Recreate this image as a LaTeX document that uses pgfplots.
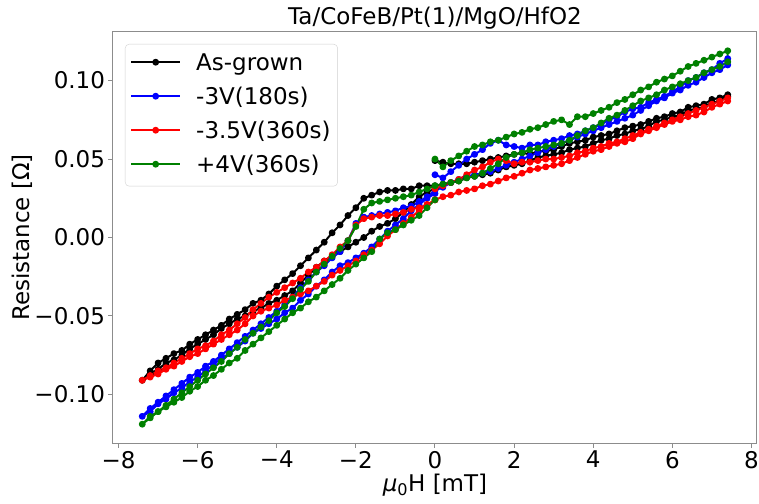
\documentclass[border=0pt]{standalone}
\usepackage{pgfplots}
\pgfplotsset{compat=1.18}
\usepackage{fontspec}
\setmainfont{DejaVu Sans}
\newcommand{\fs}{\fontsize{23}{28}\selectfont}
\definecolor{mplgreen}{rgb}{0,0.5,0}
\definecolor{framegray}{gray}{0.55}

\begin{document}
\begin{tikzpicture}
\path[use as bounding box] (-113pt,-60pt) rectangle (646pt,443pt);
\begin{axis}[
  at={(0,0)}, anchor=south west,
  width=644pt, height=411pt, scale only axis,
  xmin=-8.14, xmax=8.14, ymin=-0.131, ymax=0.131,
  xtick={-8,-6,-4,-2,0,2,4,6,8},
  xticklabels={−8,−6,−4,−2,0,2,4,6,8},
  ytick={-0.1,-0.05,0,0.05,0.1},
  yticklabels={−0.10,−0.05,0.00,0.05,0.10},
  tick align=outside, tick pos=left,
  major tick length=4.5pt,
  tick style={framegray, line width=1pt},
  axis line style={framegray, line width=1pt},
  every tick label/.append style={font=\fs, text=black},
  title={Ta/CoFeB/Pt(1)/MgO/HfO2},
  title style={font=\fs, at={(axis description cs:0.5,1.0268)}, anchor=base, yshift=-10pt},
  xlabel={{\itshape μ}\textsubscript{0}H [mT]},
  xlabel style={font=\fs, at={(axis description cs:0.5,-0.1192)}, anchor=base},
  ylabel={Resistance [Ω]},
  ylabel style={font=\fs, at={(axis description cs:-0.1413,0.5)}, anchor=center},
  legend cell align=left,
  legend style={at={(axis description cs:0,1)}, anchor=north west,
    xshift=12pt, yshift=-12pt, font=\fs,
    draw=black!18, fill=white, fill opacity=0.8, text opacity=1,
    rounded corners=4pt, inner xsep=5pt, inner ysep=7pt,
    row sep=8pt,
    /tikz/every odd column/.append style={column sep=13pt},
    nodes={inner sep=2pt, text height=17pt, text depth=5pt}},
  legend image code/.code={\draw[mark repeat=2,mark phase=2,yshift=2pt]
    plot coordinates {(0pt,0pt) (24.5pt,0pt) (49pt,0pt)};},
  every axis plot/.append style={line width=2pt, line join=round, mark=*, mark size=2.4pt},
]

% As-grown
\addplot[black] coordinates {
(0,0.049)(0.2,0.048)(0.4,0.047)(0.6,0.047)(0.8,0.047)(1,0.048)(1.2,0.049)(1.4,0.050)(1.6,0.051)(1.8,0.052)
(2,0.053)(2.2,0.054)(2.4,0.053)(2.6,0.055)(2.8,0.055)(3,0.056)(3.2,0.058)(3.4,0.060)(3.6,0.061)(3.8,0.062)
(4,0.064)(4.2,0.065)(4.4,0.066)(4.6,0.068)(4.8,0.070)(5,0.071)(5.2,0.072)(5.4,0.074)(5.6,0.076)(5.8,0.077)
(6,0.079)(6.2,0.080)(6.4,0.083)(6.6,0.084)(6.8,0.085)(7,0.088)(7.2,0.089)(7.4,0.091)
(7.4,0.090)(7.2,0.087)(7,0.086)(6.8,0.083)(6.6,0.082)(6.4,0.081)(6.2,0.078)(6,0.077)(5.8,0.075)(5.6,0.074)
(5.4,0.071)(5.2,0.069)(5,0.068)(4.8,0.066)(4.6,0.065)(4.4,0.063)(4.2,0.062)(4,0.060)(3.8,0.058)(3.6,0.057)
(3.4,0.056)(3.2,0.054)(3,0.053)(2.8,0.052)(2.6,0.051)(2.4,0.049)(2.2,0.047)(2,0.046)(1.8,0.045)(1.6,0.043)
(1.4,0.041)(1.2,0.040)(1,0.039)(0.8,0.038)(0.6,0.036)(0.4,0.035)(0.2,0.034)(0,0.033)
(-0.2,0.033)(-0.4,0.033)(-0.6,0.031)(-0.8,0.031)(-1,0.030)(-1.2,0.030)(-1.4,0.029)(-1.6,0.027)(-1.8,0.025)
(-2,0.019)(-2.2,0.014)(-2.4,0.008)(-2.6,0.003)(-2.8,-0.003)(-3,-0.008)(-3.2,-0.013)(-3.4,-0.018)(-3.6,-0.023)
(-3.8,-0.027)(-4,-0.031)(-4.2,-0.036)(-4.4,-0.040)(-4.6,-0.042)(-4.8,-0.046)(-5,-0.049)(-5.2,-0.052)
(-5.4,-0.056)(-5.6,-0.059)(-5.8,-0.062)(-6,-0.065)(-6.2,-0.068)(-6.4,-0.072)(-6.6,-0.074)(-6.8,-0.077)
(-7,-0.080)(-7.2,-0.085)(-7.4,-0.091)
(-7.2,-0.087)(-7,-0.084)(-6.8,-0.080)(-6.6,-0.078)(-6.4,-0.075)(-6.2,-0.071)(-6,-0.068)(-5.8,-0.065)
(-5.6,-0.062)(-5.4,-0.058)(-5.2,-0.055)(-5,-0.052)(-4.8,-0.050)(-4.6,-0.047)(-4.4,-0.045)(-4.2,-0.042)
(-4,-0.040)(-3.8,-0.037)(-3.6,-0.034)(-3.4,-0.029)(-3.2,-0.024)(-3,-0.019)(-2.8,-0.015)(-2.6,-0.012)
(-2.4,-0.009)(-2.2,-0.006)(-2,-0.003)(-1.8,0.000)(-1.6,0.004)(-1.4,0.007)(-1.2,0.009)(-1,0.012)
(-0.8,0.016)(-0.6,0.021)(-0.4,0.026)(-0.2,0.029)(0,0.031)
};
\addlegendentry{As-grown}

% -3V(180s)
\addplot[blue] coordinates {
(0,0.040)(0.2,0.038)(0.4,0.042)(0.6,0.046)(0.8,0.050)(1,0.053)(1.2,0.056)(1.4,0.060)(1.6,0.062)(1.8,0.059)
(2,0.058)(2.2,0.057)(2.4,0.059)(2.6,0.059)(2.8,0.061)(3,0.062)(3.2,0.063)(3.4,0.065)(3.6,0.066)(3.8,0.068)
(4,0.070)(4.2,0.072)(4.4,0.075)(4.6,0.077)(4.8,0.080)(5,0.082)(5.2,0.083)(5.4,0.086)(5.6,0.088)(5.8,0.090)
(6,0.093)(6.2,0.096)(6.4,0.100)(6.6,0.102)(6.8,0.105)(7,0.107)(7.2,0.111)(7.4,0.114)
(7.4,0.110)(7.2,0.107)(7,0.105)(6.8,0.102)(6.6,0.099)(6.4,0.097)(6.2,0.094)(6,0.092)(5.8,0.089)(5.6,0.087)
(5.4,0.084)(5.2,0.081)(5,0.078)(4.8,0.076)(4.6,0.074)(4.4,0.072)(4.2,0.070)(4,0.068)(3.8,0.066)(3.6,0.064)
(3.4,0.062)(3.2,0.060)(3,0.058)(2.8,0.056)(2.6,0.054)(2.4,0.052)(2.2,0.050)(2,0.048)(1.8,0.046)(1.6,0.044)
(1.4,0.042)(1.2,0.041)(1,0.040)(0.8,0.039)(0.6,0.037)(0.4,0.035)(0.2,0.032)(0,0.030)
(-0.2,0.026)(-0.4,0.023)(-0.6,0.020)(-0.8,0.019)(-1,0.017)(-1.2,0.016)(-1.4,0.015)(-1.6,0.014)(-1.8,0.013)
(-2,0.009)(-2.2,-0.002)(-2.4,-0.009)(-2.6,-0.013)(-2.8,-0.018)(-3,-0.022)(-3.2,-0.027)(-3.4,-0.032)
(-3.6,-0.038)(-3.8,-0.043)(-4,-0.047)(-4.2,-0.051)(-4.4,-0.055)(-4.6,-0.059)(-4.8,-0.063)(-5,-0.067)
(-5.2,-0.071)(-5.4,-0.075)(-5.6,-0.079)(-5.8,-0.082)(-6,-0.086)(-6.2,-0.089)(-6.4,-0.093)(-6.6,-0.097)
(-6.8,-0.101)(-7,-0.105)(-7.2,-0.109)(-7.4,-0.114)
(-7.2,-0.111)(-7,-0.106)(-6.8,-0.103)(-6.6,-0.099)(-6.4,-0.096)(-6.2,-0.092)(-6,-0.089)(-5.8,-0.085)
(-5.6,-0.081)(-5.4,-0.077)(-5.2,-0.074)(-5,-0.070)(-4.8,-0.066)(-4.6,-0.061)(-4.4,-0.058)(-4.2,-0.055)
(-4,-0.052)(-3.8,-0.048)(-3.6,-0.045)(-3.4,-0.040)(-3.2,-0.036)(-3,-0.031)(-2.8,-0.027)(-2.6,-0.022)
(-2.4,-0.018)(-2.2,-0.016)(-2,-0.013)(-1.8,-0.010)(-1.6,-0.006)(-1.4,-0.001)(-1.2,0.004)(-1,0.008)
(-0.8,0.012)(-0.6,0.017)(-0.4,0.021)(-0.2,0.025)(0,0.028)
};
\addlegendentry{-3V(180s)}

% -3.5V(360s)
\addplot[red] coordinates {
(0,0.031)(0.2,0.033)(0.4,0.035)(0.6,0.037)(0.8,0.040)(1,0.043)(1.2,0.045)(1.4,0.048)(1.6,0.050)(1.8,0.049)
(2,0.047)(2.2,0.048)(2.4,0.048)(2.6,0.049)(2.8,0.050)(3,0.050)(3.2,0.051)(3.4,0.052)(3.6,0.054)(3.8,0.055)
(4,0.057)(4.2,0.058)(4.4,0.060)(4.6,0.061)(4.8,0.063)(5,0.065)(5.2,0.067)(5.4,0.069)(5.6,0.071)(5.8,0.073)
(6,0.075)(6.2,0.077)(6.4,0.079)(6.6,0.081)(6.8,0.083)(7,0.085)(7.2,0.087)(7.4,0.089)
(7.4,0.087)(7.2,0.085)(7,0.083)(6.8,0.080)(6.6,0.078)(6.4,0.077)(6.2,0.075)(6,0.074)(5.8,0.072)(5.6,0.070)
(5.4,0.068)(5.2,0.066)(5,0.063)(4.8,0.061)(4.6,0.060)(4.4,0.058)(4.2,0.056)(4,0.055)(3.8,0.053)(3.6,0.051)
(3.4,0.049)(3.2,0.047)(3,0.046)(2.8,0.045)(2.6,0.044)(2.4,0.043)(2.2,0.041)(2,0.039)(1.8,0.038)(1.6,0.036)
(1.4,0.034)(1.2,0.033)(1,0.031)(0.8,0.030)(0.6,0.029)(0.4,0.027)(0.2,0.026)(0,0.024)
(-0.2,0.021)(-0.4,0.019)(-0.6,0.018)(-0.8,0.016)(-1,0.015)(-1.2,0.014)(-1.4,0.014)(-1.6,0.013)(-1.8,0.012)
(-2,0.008)(-2.2,-0.002)(-2.4,-0.006)(-2.6,-0.011)(-2.8,-0.015)(-3,-0.019)(-3.2,-0.022)(-3.4,-0.026)
(-3.6,-0.029)(-3.8,-0.032)(-4,-0.035)(-4.2,-0.038)(-4.4,-0.042)(-4.6,-0.046)(-4.8,-0.051)(-5,-0.055)
(-5.2,-0.059)(-5.4,-0.062)(-5.6,-0.066)(-5.8,-0.069)(-6,-0.071)(-6.2,-0.074)(-6.4,-0.077)(-6.6,-0.080)
(-6.8,-0.083)(-7,-0.085)(-7.2,-0.088)(-7.4,-0.091)
(-7.2,-0.089)(-7,-0.087)(-6.8,-0.084)(-6.6,-0.082)(-6.4,-0.079)(-6.2,-0.076)(-6,-0.074)(-5.8,-0.071)
(-5.6,-0.068)(-5.4,-0.065)(-5.2,-0.062)(-5,-0.059)(-4.8,-0.055)(-4.6,-0.050)(-4.4,-0.047)(-4.2,-0.045)
(-4,-0.043)(-3.8,-0.040)(-3.6,-0.038)(-3.4,-0.036)(-3.2,-0.034)(-3,-0.031)(-2.8,-0.028)(-2.6,-0.024)
(-2.4,-0.021)(-2.2,-0.018)(-2,-0.015)(-1.8,-0.011)(-1.6,-0.008)(-1.4,-0.004)(-1.2,0.001)(-1,0.005)
(-0.8,0.009)(-0.6,0.013)(-0.4,0.017)(-0.2,0.021)(0,0.024)
};
\addlegendentry{-3.5V(360s)}

% +4V(360s)
\addplot[mplgreen] coordinates {
(0,0.050)(0.2,0.045)(0.4,0.049)(0.6,0.052)(0.8,0.055)(1,0.058)(1.2,0.059)(1.4,0.061)(1.6,0.062)(1.8,0.064)
(2,0.066)(2.2,0.067)(2.4,0.069)(2.6,0.070)(2.8,0.072)(3,0.074)(3.2,0.075)(3.4,0.072)(3.6,0.077)(3.8,0.077)
(4,0.079)(4.2,0.081)(4.4,0.083)(4.6,0.086)(4.8,0.088)(5,0.091)(5.2,0.094)(5.4,0.096)(5.6,0.099)(5.8,0.101)
(6,0.103)(6.2,0.106)(6.4,0.109)(6.6,0.111)(6.8,0.113)(7,0.115)(7.2,0.117)(7.4,0.119)
(7.4,0.112)(7.2,0.109)(7,0.107)(6.8,0.105)(6.6,0.102)(6.4,0.100)(6.2,0.098)(6,0.096)(5.8,0.094)(5.6,0.091)
(5.4,0.089)(5.2,0.087)(5,0.084)(4.8,0.081)(4.6,0.078)(4.4,0.076)(4.2,0.073)(4,0.070)(3.8,0.068)(3.6,0.065)
(3.4,0.062)(3.2,0.060)(3,0.059)(2.8,0.058)(2.6,0.057)(2.4,0.056)(2.2,0.054)(2,0.053)(1.8,0.051)(1.6,0.047)
(1.4,0.044)(1.2,0.041)(1,0.039)(0.8,0.038)(0.6,0.036)(0.4,0.035)(0.2,0.034)(0,0.033)
(-0.2,0.031)(-0.4,0.029)(-0.6,0.027)(-0.8,0.026)(-1,0.025)(-1.2,0.024)(-1.4,0.023)(-1.6,0.022)(-1.8,0.018)
(-2,0.007)(-2.2,-0.002)(-2.4,-0.007)(-2.6,-0.012)(-2.8,-0.017)(-3,-0.022)(-3.2,-0.028)(-3.4,-0.033)
(-3.6,-0.039)(-3.8,-0.044)(-4,-0.048)(-4.2,-0.053)(-4.4,-0.057)(-4.6,-0.061)(-4.8,-0.065)(-5,-0.070)
(-5.2,-0.074)(-5.4,-0.079)(-5.6,-0.083)(-5.8,-0.087)(-6,-0.091)(-6.2,-0.095)(-6.4,-0.099)(-6.6,-0.103)
(-6.8,-0.107)(-7,-0.111)(-7.2,-0.115)(-7.4,-0.119)
(-7.2,-0.114)(-7,-0.111)(-6.8,-0.108)(-6.6,-0.105)(-6.4,-0.102)(-6.2,-0.098)(-6,-0.095)(-5.8,-0.091)
(-5.6,-0.088)(-5.4,-0.084)(-5.2,-0.080)(-5,-0.077)(-4.8,-0.072)(-4.6,-0.068)(-4.4,-0.064)(-4.2,-0.060)
(-4,-0.056)(-3.8,-0.052)(-3.6,-0.048)(-3.4,-0.045)(-3.2,-0.041)(-3,-0.038)(-2.8,-0.034)(-2.6,-0.030)
(-2.4,-0.026)(-2.2,-0.021)(-2,-0.017)(-1.8,-0.013)(-1.6,-0.009)(-1.4,-0.001)(-1.2,0.003)(-1,0.005)
(-0.8,0.008)(-0.6,0.011)(-0.4,0.014)(-0.2,0.019)(0,0.024)
};
\addlegendentry{+4V(360s)}

\end{axis}
\end{tikzpicture}
\end{document}
